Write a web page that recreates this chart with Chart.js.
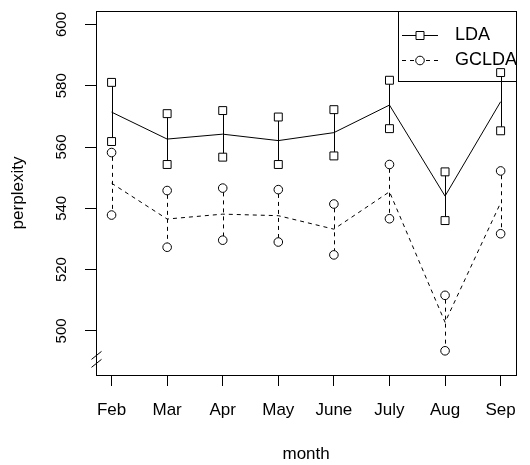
<!DOCTYPE html>
<html>
<head>
<meta charset="utf-8">
<script src="https://cdn.jsdelivr.net/npm/chart.js@4.4.1/dist/chart.umd.min.js"></script>
<style>
  body { margin: 0; background: #fff; }
  #wrap { width: 530px; height: 465px; }
</style>
</head>
<body>
<div id="wrap"><canvas id="perplexityChart" width="530" height="465"></canvas></div>
<script>
// ---- data ----
const MONTHS = ["Feb", "Mar", "Apr", "May", "June", "July", "Aug", "Sep"];

const LDA_MEAN  = [571.4, 562.6, 564.2, 562.1, 564.7, 573.7, 544.0, 574.8];
const LDA_UPPER = [581.1, 570.9, 571.9, 569.8, 572.2, 581.8, 551.9, 584.3];
const LDA_LOWER = [561.8, 554.3, 556.7, 554.3, 557.1, 566.0, 536.0, 565.3];

const GCLDA_MEAN  = [548.2, 536.5, 538.1, 537.6, 533.2, 545.4, 502.8, 541.8];
const GCLDA_UPPER = [558.2, 545.8, 546.6, 546.1, 541.4, 554.3, 511.6, 552.2];
const GCLDA_LOWER = [537.8, 527.3, 529.6, 529.0, 524.8, 536.6, 493.5, 531.7];

const Y_TICKS = [500, 520, 540, 560, 580, 600];
const Y_LIM = [490, 600];   // R ylim, axis gets 4% padding each side

const FONT = "'Liberation Sans', Arial, Helvetica, sans-serif";
const INK = "#000";

// R-style 4% range expansion
function expand(lo, hi) {
  const pad = (hi - lo) * 0.04;
  return [lo - pad, hi + pad];
}
const [yMin, yMax] = expand(Y_LIM[0], Y_LIM[1]);
const [xMin, xMax] = expand(1, MONTHS.length);

const toXY = arr => arr.map((v, i) => ({ x: i + 1, y: v }));

// ---- error bars, frame, rotated y labels, legend ----
const rStylePlugin = {
  id: "rStyle",
  beforeDatasetsDraw(chart) {
    const { ctx, scales: { x, y } } = chart;
    const drawBars = (upper, lower, gap, dash) => {
      ctx.save();
      ctx.strokeStyle = INK;
      ctx.lineWidth = 1;
      ctx.setLineDash(dash);
      upper.forEach((u, i) => {
        const px = Math.round(x.getPixelForValue(i + 1)) + 0.5;
        const yu = y.getPixelForValue(u) + gap;
        const yl = y.getPixelForValue(lower[i]) - gap;
        if (yl > yu) {
          ctx.beginPath();
          ctx.moveTo(px, yu);
          ctx.lineTo(px, yl);
          ctx.stroke();
        }
      });
      ctx.restore();
    };
    drawBars(LDA_UPPER, LDA_LOWER, 4, []);
    drawBars(GCLDA_UPPER, GCLDA_LOWER, 4.3, [4, 4]);
  },
  afterDraw(chart) {
    const { ctx, chartArea: a, scales: { y } } = chart;
    ctx.save();
    ctx.strokeStyle = INK;
    ctx.lineWidth = 1;

    // box
    ctx.strokeRect(Math.round(a.left) + 0.5, Math.round(a.top) + 0.5,
                   Math.round(a.right - a.left), Math.round(a.bottom - a.top));

    // axis break "//"
    const bx = Math.round(a.left) + 0.5;
    [489.4, 492.0].forEach(v => {
      const by = y.getPixelForValue(v);
      ctx.beginPath();
      ctx.moveTo(bx - 5, by + 4);
      ctx.lineTo(bx + 5, by - 4);
      ctx.stroke();
    });

    // rotated y tick labels
    ctx.fillStyle = INK;
    ctx.font = "15px " + FONT;
    ctx.textAlign = "center";
    ctx.textBaseline = "middle";
    Y_TICKS.forEach(v => {
      ctx.save();
      ctx.translate(62, y.getPixelForValue(v));
      ctx.rotate(-Math.PI / 2);
      ctx.fillText(String(v), 0, 0);
      ctx.restore();
    });

    // legend (no background, points show through like the original)
    const lx = 398.5, ly = Math.round(a.top) + 0.5, lw = Math.round(a.right) + 0.5 - lx, lh = 70;
    ctx.strokeRect(lx, ly, lw, lh);
    const rows = [
      { label: "LDA", yy: 35.5, dash: [], marker: "rect" },
      { label: "GCLDA", yy: 60.5, dash: [4, 4], marker: "circle" }
    ];
    rows.forEach(r => {
      ctx.setLineDash(r.dash);
      ctx.beginPath();
      ctx.moveTo(402, r.yy);
      ctx.lineTo(438, r.yy);
      ctx.stroke();
      ctx.setLineDash([]);
      ctx.fillStyle = "#fff";
      ctx.beginPath();
      if (r.marker === "rect") ctx.rect(416, r.yy - 4, 8, 8);
      else ctx.arc(420, r.yy, 4.3, 0, Math.PI * 2);
      ctx.fill();
      ctx.stroke();
      ctx.fillStyle = INK;
      ctx.font = "18px " + FONT;
      ctx.textAlign = "left";
      ctx.textBaseline = "middle";
      ctx.fillText(r.label, 455, r.yy);
    });
    ctx.restore();
  }
};

const pointSet = (label, arr, style, radius) => ({
  label,
  data: toXY(arr),
  showLine: false,
  pointStyle: style,
  pointRadius: radius,
  pointBorderWidth: 1,
  pointBorderColor: INK,
  pointBackgroundColor: "rgba(0,0,0,0)"
});

new Chart(document.getElementById("perplexityChart"), {
  type: "line",
  data: {
    datasets: [
      { label: "LDA", data: toXY(LDA_MEAN), borderColor: INK, borderWidth: 1, pointRadius: 0, tension: 0 },
      { label: "GCLDA", data: toXY(GCLDA_MEAN), borderColor: INK, borderWidth: 1, borderDash: [4, 4], pointRadius: 0, tension: 0 },
      pointSet("LDA upper", LDA_UPPER, "rect", 5.6),
      pointSet("LDA lower", LDA_LOWER, "rect", 5.6),
      pointSet("GCLDA upper", GCLDA_UPPER, "circle", 4.3),
      pointSet("GCLDA lower", GCLDA_LOWER, "circle", 4.3)
    ]
  },
  options: {
    responsive: false,
    animation: false,
    layout: { padding: { top: 11, right: 2, left: 0, bottom: 0 } },
    plugins: { legend: { display: false }, tooltip: { enabled: false } },
    scales: {
      x: {
        type: "linear",
        min: xMin,
        max: xMax,
        afterBuildTicks: s => { s.ticks = MONTHS.map((m, i) => ({ value: i + 1 })); },
        afterFit: s => { s.height = 90; },
        ticks: {
          callback: v => MONTHS[v - 1],
          color: INK,
          font: { family: FONT, size: 17 },
          padding: 14,
          maxRotation: 0,
          autoSkip: false
        },
        grid: { drawOnChartArea: false, drawTicks: true, tickLength: 11, color: INK },
        border: { color: INK, width: 1 },
        title: { display: true, text: "month", color: INK, font: { family: FONT, size: 17 }, padding: { top: 0, bottom: 0 } }
      },
      y: {
        type: "linear",
        min: yMin,
        max: yMax,
        afterBuildTicks: s => { s.ticks = Y_TICKS.map(v => ({ value: v })); },
        afterFit: s => { s.width = 96; },
        ticks: { display: false },
        grid: { drawOnChartArea: false, drawTicks: true, tickLength: 11, color: INK },
        border: { color: INK, width: 1 },
        title: { display: true, text: "perplexity", color: INK, font: { family: FONT, size: 17 }, padding: { top: 8, bottom: 0 } }
      }
    }
  },
  plugins: [rStylePlugin]
});
</script>
</body>
</html>
